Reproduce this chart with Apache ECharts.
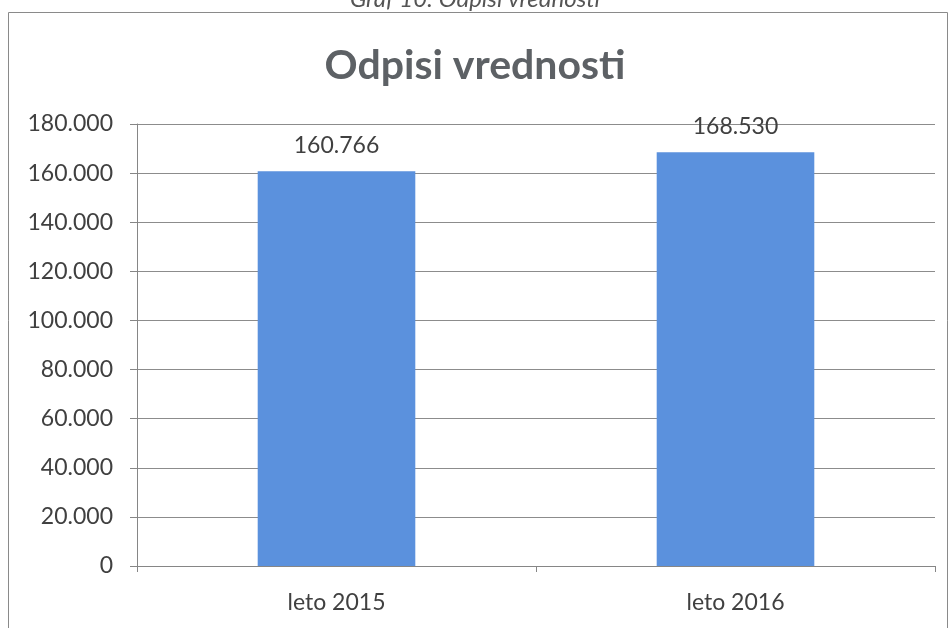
<!DOCTYPE html>
<html><head><meta charset="utf-8">
<script src="https://cdn.jsdelivr.net/npm/echarts@6/dist/echarts.min.js"></script>
<style>html,body{margin:0;padding:0;background:#fff}#c{width:950px;height:628px}</style>
</head><body><div id="c"></div>
<script>
const categories = ['leto 2015', 'leto 2016'];
const values = [160766, 168530];
const yTicks = [0, 20000, 40000, 60000, 80000, 100000, 120000, 140000, 160000, 180000];
const titleText = 'Odpisi vrednosti';
const captionText = 'Graf 10: Odpisi vrednosti';

function fmt(v) { return String(v).replace(/\B(?=(\d{3})+(?!\d))/g, '.'); }

const chart = echarts.init(document.getElementById('c'));
chart.setOption({
  backgroundColor: '#fff',
  animation: false,
  title: {
    text: titleText, left: 'center', top: 40,
    textStyle: { fontFamily: 'Lato', fontSize: 41, fontWeight: 'bold', color: '#5d6165' }
  },
  graphic: [
    { type: 'rect', shape: { x: 8.5, y: 12.5, width: 939, height: 640 }, style: { fill: null, stroke: '#8a8a8a', lineWidth: 1 } },
    { type: 'text', left: 'center', top: -13, style: { text: captionText, font: 'italic 24px Lato', fill: '#555' } }
  ],
  grid: { left: 137, right: 15, top: 124, bottom: 62 },
  xAxis: {
    type: 'category', data: categories,
    axisLine: { lineStyle: { color: '#868686', width: 1 } },
    axisTick: { show: true, length: 6, lineStyle: { color: '#868686' } },
    axisLabel: { fontFamily: 'Lato', fontSize: 23, color: '#404040', margin: 25 }
  },
  yAxis: {
    type: 'value', min: yTicks[0], max: yTicks[yTicks.length - 1], interval: yTicks[1] - yTicks[0],
    axisLine: { show: true, lineStyle: { color: '#868686', width: 1 } },
    axisTick: { show: true, length: 7, lineStyle: { color: '#868686' } },
    splitLine: { lineStyle: { color: '#8c8c8c', width: 1 } },
    axisLabel: { fontFamily: 'Lato', fontSize: 23, color: '#404040', margin: 24, formatter: fmt }
  },
  series: [{
    type: 'bar', data: values, barWidth: '39.5%',
    itemStyle: { color: '#5b91dd' },
    label: { show: true, position: 'top', distance: 14, fontFamily: 'Lato', fontSize: 23, color: '#404040', formatter: p => fmt(p.value) }
  }]
});
</script></body></html>
